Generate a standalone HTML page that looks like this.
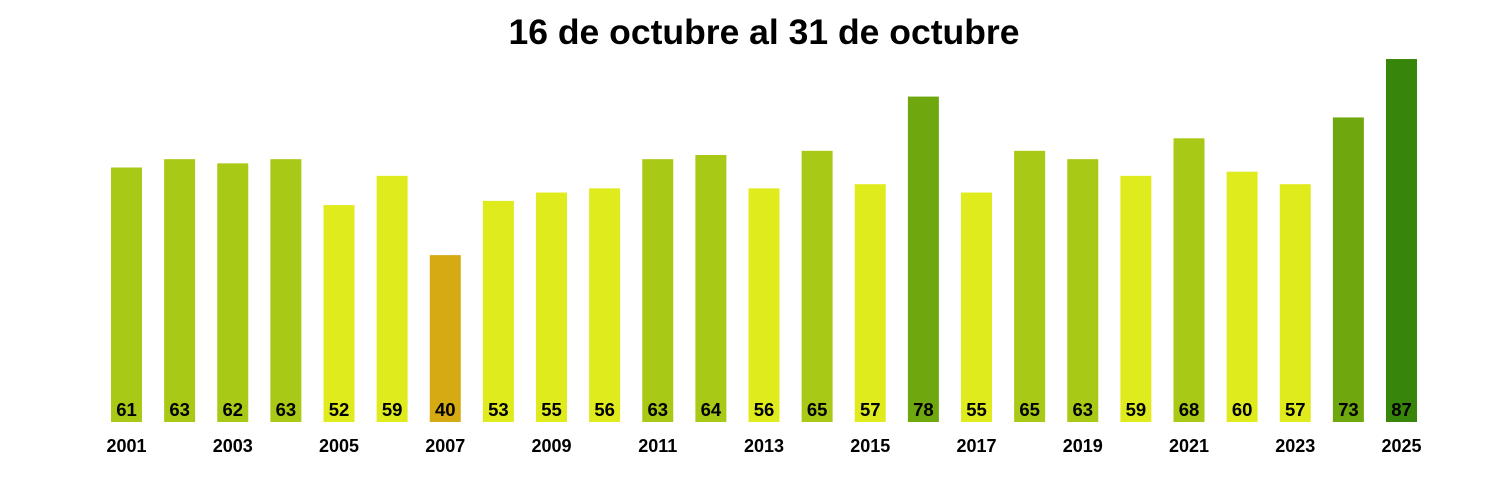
<!DOCTYPE html>
<html><head><meta charset="utf-8"><style>
body{margin:0;background:#fff;}
svg{display:block;font-family:"Liberation Sans",Arial,sans-serif;font-weight:bold;}
</style></head><body>
<svg width="1500" height="500" xmlns="http://www.w3.org/2000/svg">
<text x="764" y="44" font-size="35.5" text-anchor="middle">16 de octubre al 31 de octubre</text>
<g id="bars"></g>
</svg>
<script>
var v=[61,63,62,63,52,59,40,53,55,56,63,64,56,65,57,78,55,65,63,59,68,60,57,73,87];
var g=document.getElementById('bars'),s='';
v.forEach(function(d,i){
 var cx=126.5+i*53.125,h=d*4.172,c;
 if(d>=80)c='#37850a';else if(d>=70)c='#6ea80e';else if(d>=61)c='#a8c916';else if(d>=45)c='#e0eb1e';else c='#d6aa12';
 s+='<rect x="'+(cx-15.5)+'" y="'+(422-h)+'" width="31" height="'+h+'" fill="'+c+'"/>';
 s+='<text x="'+cx+'" y="416" font-size="18.5" text-anchor="middle">'+d+'</text>';
 if(i%2==0)s+='<text x="'+cx+'" y="452" font-size="18" text-anchor="middle">'+(2001+i)+'</text>';
});
g.innerHTML=s;
</script>
</body></html>
